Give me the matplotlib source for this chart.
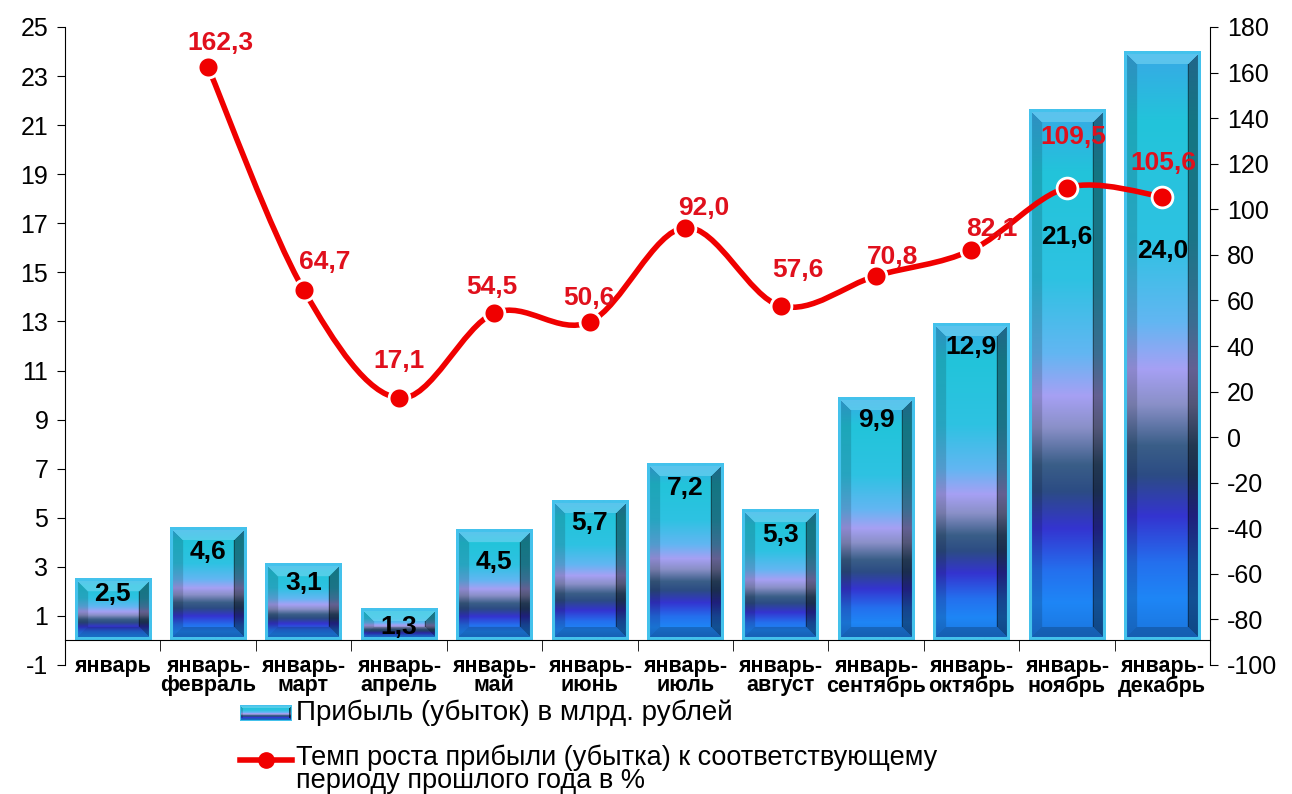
import matplotlib

matplotlib.use("Agg")

import matplotlib.pyplot as plt
import numpy as np
from matplotlib.colors import to_rgb
from matplotlib.lines import Line2D
from matplotlib.patches import PathPatch
from matplotlib.path import Path

plt.rcParams["font.family"] = ["Liberation Sans", "DejaVu Sans"]
plt.rcParams["axes.unicode_minus"] = False

# --- data ------------------------------------------------------------------
categories = [
    "январь", "январь-\nфевраль", "январь-\nмарт", "январь-\nапрель",
    "январь-\nмай", "январь-\nиюнь", "январь-\nиюль", "январь-\nавгуст",
    "январь-\nсентябрь", "январь-\nоктябрь", "январь-\nноябрь", "январь-\nдекабрь",
]
profit = [2.5, 4.6, 3.1, 1.3, 4.5, 5.7, 7.2, 5.3, 9.9, 12.9, 21.6, 24.0]
growth = [np.nan, 162.3, 64.7, 17.1, 54.5, 50.6, 92.0, 57.6, 70.8, 82.1, 109.5, 105.6]
left_ticks = list(range(-1, 26, 2))
right_ticks = list(range(-100, 181, 20))
bar_legend = "Прибыль (убыток) в млрд. рублей"
line_legend = "Темп роста прибыли (убытка) к соответствующему\nпериоду прошлого года в %"

# label placement (pixels), tuned by eye
bar_label_drop = [15, 24, 19, 18, 32, 22, 24, 25, 22, 23, 127, 199]
line_label_shift = [None, (12, 24), (21, 28), (0, 37), (-3, 26), (-1, 24),
                    (19, 20), (17, 36), (17, 19), (20, 21), (6, 51), (1, 34)]

RED = "#f00000"
LABEL_RED = "#e0101c"

face_stops = [
    (0.00, "#38a8e6"), (0.12, "#22c4da"), (0.32, "#2ec2e2"), (0.46, "#62b6f2"),
    (0.54, "#a6a0f4"), (0.60, "#8a90c8"), (0.67, "#3a5e88"), (0.72, "#2c4c84"),
    (0.79, "#3434d0"), (0.87, "#2470ee"), (0.93, "#1e86f6"), (1.00, "#1a74dc"),
]


def face_colors(n: int) -> np.ndarray:
    t = np.linspace(0.0, 1.0, n)
    pos = [s[0] for s in face_stops]
    rgb = np.array([to_rgb(s[1]) for s in face_stops])
    return np.stack([np.interp(t, pos, rgb[:, k]) for k in range(3)], axis=1)


def bar_image(nx: int, ny: int, frame: int = 3, bevel: int = 10) -> np.ndarray:
    ny = max(ny, 2)
    img = np.repeat(face_colors(ny)[:, None, :], nx, axis=1)
    i, j = np.mgrid[0:ny, 0:nx]
    dists = np.stack([i, ny - 1 - i, j, nx - 1 - j])
    d = dists.min(axis=0)
    side = dists.argmin(axis=0)
    band = (d >= frame) & (d < frame + bevel)
    light = np.array(to_rgb("#7ad8f4"))
    top = band & (side == 0)
    img[top] = img[top] * 0.45 + light * 0.55
    bottom = band & (side == 1)
    img[bottom] = img[bottom] * 0.8
    left = band & (side == 2)
    img[left] = img[left] * 0.85
    right = band & (side == 3)
    img[right] = img[right] * 0.6
    # thin dark seam between bevel and face on the right side
    seam = (d == frame + bevel - 1) & (side == 3)
    img[seam] = img[seam] * 0.6
    img[d < frame] = to_rgb("#44c2ec")
    return img


def smooth_path(xs, ys) -> Path:
    pts = np.column_stack([xs, ys])
    n = len(pts)
    verts = [pts[0]]
    codes = [Path.MOVETO]
    for k in range(n - 1):
        prev_p = pts[k - 1] if k > 0 else pts[k]
        next_p = pts[k + 2] if k + 2 < n else pts[k + 1]
        verts += [pts[k] + (pts[k + 1] - prev_p) / 6.0,
                  pts[k + 1] - (next_p - pts[k]) / 6.0,
                  pts[k + 1]]
        codes += [Path.CURVE4] * 3
    return Path(verts, codes)


def fmt(v: float) -> str:
    return f"{v:.1f}".replace(".", ",")


W, H = 1292, 794
fig = plt.figure(figsize=(W / 100, H / 100), dpi=100)
ax = fig.add_axes([65 / W, 1 - 665 / H, (1210 - 65) / W, (665 - 27) / H])
ax.set_xlim(-0.5, len(categories) - 0.5)
ax.set_ylim(-1, 25)

bar_w = 0.8
px_per_x = ax.bbox.width / len(categories)
px_per_y = ax.bbox.height / 26.0
for k, v in enumerate(profit):
    nx = int(round(bar_w * px_per_x))
    ny = int(round(v * px_per_y))
    ax.imshow(bar_image(nx, ny), extent=(k - bar_w / 2, k + bar_w / 2, 0, v),
              origin="upper", aspect="auto", interpolation="bilinear", zorder=2)
    ax.annotate(fmt(v), (k, v), xytext=(0, -bar_label_drop[k]),
                textcoords="offset pixels", ha="center", va="center",
                fontsize=19, fontweight="bold", color="black", zorder=5)

ax.set_xlim(-0.5, len(categories) - 0.5)
ax.set_ylim(-1, 25)
ax.spines["top"].set_visible(False)
ax.spines["right"].set_visible(False)
ax.spines["bottom"].set_position(("data", 0))
ax.set_yticks(left_ticks)
ax.tick_params(axis="y", direction="out", length=6, labelsize=18, pad=6)
ax.set_xticks(range(len(categories)))
ax.set_xticklabels(categories, fontsize=15.5, fontweight="bold", linespacing=0.92)
ax.set_xticks(np.arange(0.5, len(categories) - 1, 1.0), minor=True)
ax.tick_params(axis="x", which="major", length=0, pad=11)
ax.tick_params(axis="x", which="minor", direction="out", length=8)

ax2 = ax.twinx()
ax2.set_ylim(-100, 180)
ax2.set_yticks(right_ticks)
ax2.tick_params(axis="y", direction="out", length=6, labelsize=18, pad=6)
for side in ("top", "left", "bottom"):
    ax2.spines[side].set_visible(False)

xs = [k for k, g in enumerate(growth) if not np.isnan(g)]
ys = [g for g in growth if not np.isnan(g)]
ax2.add_patch(PathPatch(smooth_path(xs, ys), fill=False, edgecolor=RED,
                        linewidth=4, capstyle="round", zorder=3))
ax2.plot(xs, ys, "o", ms=15, mfc=RED, mec="white", mew=2, zorder=4)
for k, g in enumerate(growth):
    if np.isnan(g):
        continue
    dx, dy = line_label_shift[k]
    ax2.annotate(fmt(g), (k, g), xytext=(dx, dy), textcoords="offset pixels",
                 ha="center", va="center", fontsize=19, fontweight="bold",
                 color=LABEL_RED, zorder=6)

# --- legend, drawn by hand below the plot ----------------------------------
leg_ax = fig.add_axes([240 / W, 1 - 721 / H, 52 / W, 16 / H])
leg_ax.imshow(bar_image(52, 16, frame=1, bevel=2), aspect="auto",
              interpolation="bilinear")
leg_ax.axis("off")
fig.text(296 / W, 1 - 713 / H, bar_legend, ha="left", va="center", fontsize=20)

y_line = 1 - 760 / H
fig.add_artist(Line2D([240 / W, 292 / W], [y_line, y_line], color=RED,
                      linewidth=4, transform=fig.transFigure))
fig.add_artist(Line2D([266 / W], [y_line], marker="o", ms=11, color=RED,
                      mec=RED, transform=fig.transFigure))
fig.text(296 / W, 1 - 769 / H, line_legend, ha="left", va="center",
         fontsize=19.5, linespacing=0.85)

fig.savefig("out.png", dpi=100)
